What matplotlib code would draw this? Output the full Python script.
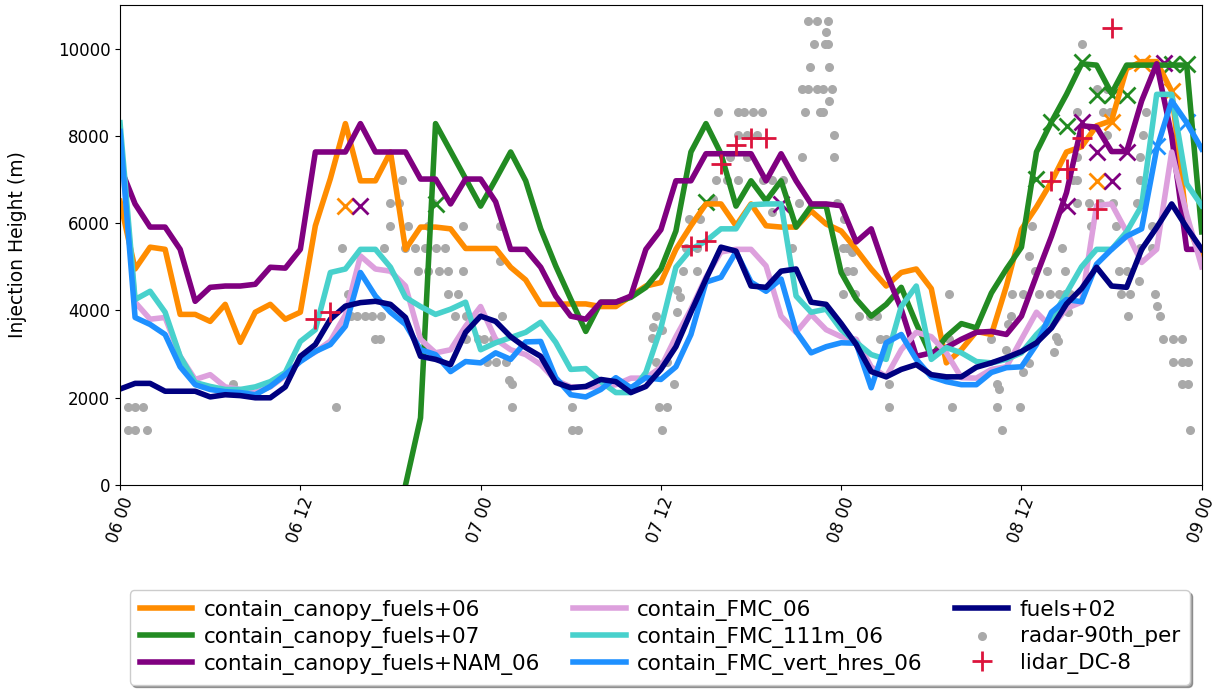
import numpy as np
import pandas as pd
import matplotlib
matplotlib.use("Agg")
import matplotlib.pyplot as plt
import matplotlib.dates as mdates

start = pd.Timestamp("2019-08-06 00:00")
hours = pd.date_range(start, periods=73, freq="h")

nan = np.nan

canopy_fuels_06 = [6500, 4950, 5450, 5400, 3910, 3910, 3750, 4140, 3270, 3960,
                   4140, 3800, 3960, 5940, 7020, 8280, 6970, 6970, 7630, 5400,
                   5910, 5910, 5870, 5420, 5420, 5420, 4990, 4700, 4140, 4140,
                   4150, 4150, 4090, 4090, 4330, 4560, 4640, 5400, 5940, 6440,
                   6440, 5940, 6440, 5940, 5910, 5910, 6280, 5980, 5820, 5400,
                   4950, 4560, 4870, 4950, 4500, 2800, 3100, 3520, 3450, 4560,
                   5860, 6370, 6950, 7630, 7750, 8230, 8350, 9540, 9700, 9700,
                   9020, 6000, 5200]

canopy_fuels_07 = [nan] * 19 + [
                   0, 1540, 8280, 7650, 7020, 6390, 7000, 7630, 6970, 5870,
                   5020, 4260, 3520, 4190, 4190, 4300, 4530, 4950, 5820, 7630,
                   8280, 7590, 6390, 6970, 6510, 6970, 5910, 6390, 6390, 4870,
                   4260, 3870, 4140, 4530, 3700, 2950, 3400, 3700, 3600, 4400,
                   4950, 5450, 7630, 8320, 8950, 9650, 9620, 8970, 9620, 9620,
                   9620, 9620, 9620, 5800]

canopy_fuels_nam_06 = [7300, 6440, 5910, 5910, 5400, 4210, 4530, 4560, 4560, 4600,
                       4990, 4970, 5400, 7630, 7630, 7630, 8280, 7630, 7630, 7630,
                       7010, 7010, 6440, 7010, 7010, 6490, 5400, 5400, 4990, 4330,
                       3870, 3800, 4190, 4190, 4330, 5400, 5850, 6970, 6970, 7590,
                       7590, 7590, 7590, 6970, 7590, 6970, 6440, 6440, 6400, 5570,
                       5870, 4870, 4030, 2950, 3030, 3150, 3340, 3500, 3520, 3450,
                       3870, 4800, 5700, 6700, 8230, 8200, 7640, 7640, 8800, 9650,
                       8000, 5400, 5400]

fmc_06 = [8000, 4190, 3800, 3840, 2950, 2420, 2530, 2250, 2190, 2120,
          2250, 2500, 2850, 3050, 3300, 3900, 5250, 4950, 4900, 4560,
          3340, 3030, 3100, 3640, 4090, 3340, 3100, 2990, 2760, 2400,
          2250, 2250, 2250, 2300, 2450, 2450, 2700, 3400, 4030, 4760,
          5340, 5400, 5400, 5020, 3870, 3500, 3910, 3560, 3400, 3340,
          2710, 2480, 3100, 3500, 3400, 3030, 2460, 2450, 2650, 2710,
          3340, 3960, 3610, 4050, 4190, 6400, 6440, 5800, 5100, 5400,
          7630, 6200, 5000]

fmc_111m_06 = [8300, 4250, 4440, 3960, 2950, 2350, 2260, 2190, 2190, 2250,
               2370, 2580, 3290, 3560, 4870, 4950, 5400, 5400, 4990, 4300,
               4090, 3910, 4030, 4190, 3100, 3260, 3380, 3500, 3730, 3270,
               2650, 2670, 2370, 2120, 2120, 2580, 3600, 4990, 5400, 5590,
               5870, 5870, 6420, 6440, 6440, 4330, 3960, 4030, 3560, 3270,
               2990, 2880, 4090, 4560, 2880, 3150, 3030, 2830, 2800, 2880,
               3030, 3450, 3800, 4400, 5000, 5400, 5400, 5800, 6400, 8950,
               8950, 6900, 6400]

fmc_vert_hres_06 = [8100, 3840, 3680, 3450, 2710, 2300, 2190, 2140, 2120, 2070,
                    2260, 2530, 2830, 3060, 3220, 3640, 4870, 4330, 3960, 3680,
                    3100, 2990, 2600, 2830, 2800, 3030, 2880, 3280, 3290, 2460,
                    2070, 2020, 2190, 2460, 2230, 2460, 2420, 2710, 3450, 4650,
                    4760, 5340, 4650, 4440, 4720, 3520, 3030, 3170, 3260, 3250,
                    2230, 3260, 3450, 2880, 2480, 2370, 2300, 2300, 2580, 2690,
                    2710, 3220, 3960, 4250, 4200, 5060, 5400, 5700, 5870, 7700,
                    8800, 8300, 7700]

fuels_02 = [2200, 2330, 2330, 2150, 2150, 2150, 2020, 2070, 2050, 2000,
            2000, 2250, 2950, 3220, 3800, 4100, 4180, 4210, 4140, 3840,
            2950, 2880, 2760, 3500, 3870, 3750, 3400, 3150, 2950, 2350,
            2230, 2260, 2420, 2370, 2120, 2260, 2650, 3170, 3960, 4720,
            5450, 5360, 4560, 4530, 4900, 4950, 4190, 4140, 3700, 3220,
            2600, 2480, 2650, 2760, 2530, 2480, 2480, 2700, 2800, 2920,
            3060, 3260, 3600, 4150, 4500, 4990, 4560, 4530, 5400, 5900,
            6440, 5900, 5400]

# radar 90th percentile echo tops: hours after 06 00 and heights (m)
radar_hours = [0.5, 1.0, 1.5, 0.5, 1.0, 1.8,
               7.5, 14.4, 14.8, 15.2, 15.4, 15.8, 16.3, 16.8, 17.4, 17.0, 17.3, 17.6,
               18.0, 18.6, 18.0, 19.2, 18.8, 19.0, 19.6, 20.3, 21.0, 21.6, 19.8, 20.5,
               21.2, 21.8, 22.8, 21.8, 22.5, 20.8, 20.5, 22.8, 22.3, 23.0, 23.0, 23.8,
               24.2, 24.8, 24.4, 25.0, 25.7, 25.3, 25.3, 25.4, 25.9, 26.1, 26.1,
               30.1, 30.1, 30.5,
               35.7, 35.5, 36.1, 35.4, 35.7, 36.4, 36.9, 35.9, 36.4, 36.1, 37.1, 37.3,
               37.1, 37.5, 38.4, 37.7, 38.4, 37.9, 38.6, 39.5, 39.7, 40.4, 41.1, 40.6,
               41.7, 41.1, 41.7, 42.4, 39.8, 41.1, 41.5, 42.1, 42.7, 42.8, 43.4, 44.1,
               43.4, 44.7, 45.4, 45.4, 45.8, 46.4, 46.8, 45.6, 46.6, 46.8, 45.9, 46.2,
               46.9, 47.1, 45.8, 46.4, 47.1, 47.0, 47.2, 47.4, 47.2, 47.5, 47.5, 47.7,
               45.2, 48.2, 48.1, 48.1, 48.4, 48.7, 48.4, 48.8, 48.9, 49.2, 49.9, 50.4,
               50.6, 51.0, 51.2, 51.2,
               55.2, 55.4, 55.2, 58.7, 58.4, 58.4, 58.5, 58.0, 59.0, 59.1, 59.3, 59.4,
               60.1, 59.9, 60.1, 60.5, 60.5, 60.7, 60.9, 61.7, 61.2, 61.9, 62.9, 62.7,
               62.9, 62.3, 62.4, 62.2, 63.1, 62.5, 63.2, 63.4, 63.7, 63.7, 63.7, 64.0,
               63.7, 64.5, 65.2, 66.1, 64.6, 65.0, 65.7, 65.4, 65.9, 65.7, 66.3, 66.5,
               67.0, 66.6, 67.2, 67.1, 67.9, 67.7, 67.9, 67.9, 67.8, 68.1, 68.3, 68.9,
               69.0, 69.2, 69.4, 70.1, 70.7, 70.1, 70.7, 71.1, 70.7, 71.1, 71.2, 68.7,
               68.7]
radar_heights = [1785, 1785, 1785, 1265, 1265, 1265,
                 2305, 1785, 5425, 4385, 3865, 3865, 3865, 3865, 3865, 3345, 3345, 5425,
                 6465, 6465, 5945, 5945, 6985, 5425, 5425, 5425, 5425, 5425, 4905, 4905,
                 4905, 4905, 4905, 4385, 4385, 6465, 5945, 5945, 3865, 3865, 3345, 3345,
                 3345, 3345, 2825, 2825, 2825, 5945, 5130, 3865, 2400, 2305, 1785,
                 1785, 1265, 1265,
                 3865, 3630, 3560, 3380, 2825, 2825, 2305, 1785, 1785, 1265, 4480, 4300,
                 3960, 4905, 4905, 5425, 5425, 6100, 6100, 6560, 6985, 6985, 6985, 7505,
                 7505, 8025, 8025, 8025, 8545, 8545, 8545, 8545, 8545, 6985, 6985, 6985,
                 6260, 5425, 7505, 9065, 9065, 9065, 9065, 8545, 8545, 8545, 9585, 10105,
                 10105, 10105, 10625, 10625, 10625, 10370, 9585, 9065, 8800, 8025, 7505, 6465,
                 6465, 6100, 5425, 4385, 5425, 5340, 4905, 4905, 4385, 3865, 3865, 3865,
                 3345, 3345, 2305, 1785,
                 4385, 1785, 3345, 1265, 1785, 2305, 2190, 3345, 3100, 3680, 3865, 4385,
                 4385, 1785, 2600, 2800, 5240, 5945, 4905, 4905, 4385, 4385, 4385, 5425,
                 4905, 3400, 3290, 3040, 3960, 4385, 4385, 6985, 6985, 6465, 7505, 10105,
                 8545, 6465, 6465, 6465, 5945, 9065, 9065, 8545, 8545, 8025, 5945, 4905,
                 4905, 4385, 4385, 3865, 7505, 6465, 6985, 5425, 4670, 8025, 8545, 4385,
                 4100, 3865, 3345, 3345, 3345, 2825, 2825, 2825, 2305, 2305, 1265, 5945,
                 5425]

# DC-8 lidar plume heights
lidar_hours = [13, 14, 38, 39, 40, 41, 42, 43, 62, 63, 64, 65, 66]
lidar_heights = [3800, 3960, 5470, 5590, 7360, 7780, 7940, 7940, 6970, 7250, 7940, 6330, 10470]

# model heights sampled at the lidar overpasses
cf06_x_hours = [15, 65, 66, 68, 70]
cf06_x_heights = [6400, 6970, 8320, 9660, 9020]
cf07_x_hours = [21, 39, 61, 62, 63, 64, 65, 66, 67, 70, 71]
cf07_x_heights = [6440, 6480, 7010, 8320, 8230, 9700, 8930, 8930, 8930, 9650, 9650]
nam_x_hours = [16, 44, 63, 64, 65, 66, 67, 69.5]
nam_x_heights = [6400, 6440, 6400, 8320, 7630, 6970, 7630, 9660]
vert_x_hours = [69, 71]
vert_x_heights = [7770, 8320]


def to_time(h):
    return [start + pd.Timedelta(hours=v) for v in h]


fig = plt.figure(figsize=(12.25, 6.94), dpi=100)
ax = fig.add_axes([0.098, 0.301, 0.883, 0.692])

lw = 4
series = [
    (canopy_fuels_06, "darkorange", "contain_canopy_fuels+06"),
    (canopy_fuels_07, "forestgreen", "contain_canopy_fuels+07"),
    (canopy_fuels_nam_06, "purple", "contain_canopy_fuels+NAM_06"),
    (fmc_06, "plum", "contain_FMC_06"),
    (fmc_111m_06, "mediumturquoise", "contain_FMC_111m_06"),
    (fmc_vert_hres_06, "dodgerblue", "contain_FMC_vert_hres_06"),
    (fuels_02, "navy", "fuels+02"),
]
for vals, col, lab in series:
    ax.plot(hours, vals, color=col, lw=lw, label=lab, zorder=2)

for hh, vv, col in [(cf06_x_hours, cf06_x_heights, "darkorange"),
                    (cf07_x_hours, cf07_x_heights, "forestgreen"),
                    (nam_x_hours, nam_x_heights, "purple"),
                    (vert_x_hours, vert_x_heights, "dodgerblue")]:
    ax.plot(to_time(hh), vv, ls="none", marker="x", ms=11, mew=2,
            color=col, zorder=1.5)

ax.scatter(to_time(radar_hours), radar_heights, s=30, color="darkgray",
           label="radar-90th_per", zorder=1)
ax.plot(to_time(lidar_hours), lidar_heights, ls="none", marker="+", ms=14,
        mew=2, color="crimson", label="lidar_DC-8", zorder=3)

ax.set_xlim(start, start + pd.Timedelta(hours=72))
ax.set_ylim(0, 11000)
ax.xaxis.set_major_locator(mdates.HourLocator(byhour=[0, 12]))
ax.xaxis.set_major_formatter(mdates.DateFormatter("%d %H"))
ax.tick_params(axis="both", labelsize=12)
plt.setp(ax.get_xticklabels(), rotation=70)
ax.set_ylabel("Injection Height (m)", fontsize=13.5, labelpad=22)

ax.legend(loc="upper center", bbox_to_anchor=(0.499, -0.219), ncol=3,
          fontsize=15.5, shadow=True, handlelength=2.45, columnspacing=1.5,
          labelspacing=0.28, borderpad=0.45, handletextpad=0.55,
          borderaxespad=0)

fig.savefig("out.png", dpi=100)
